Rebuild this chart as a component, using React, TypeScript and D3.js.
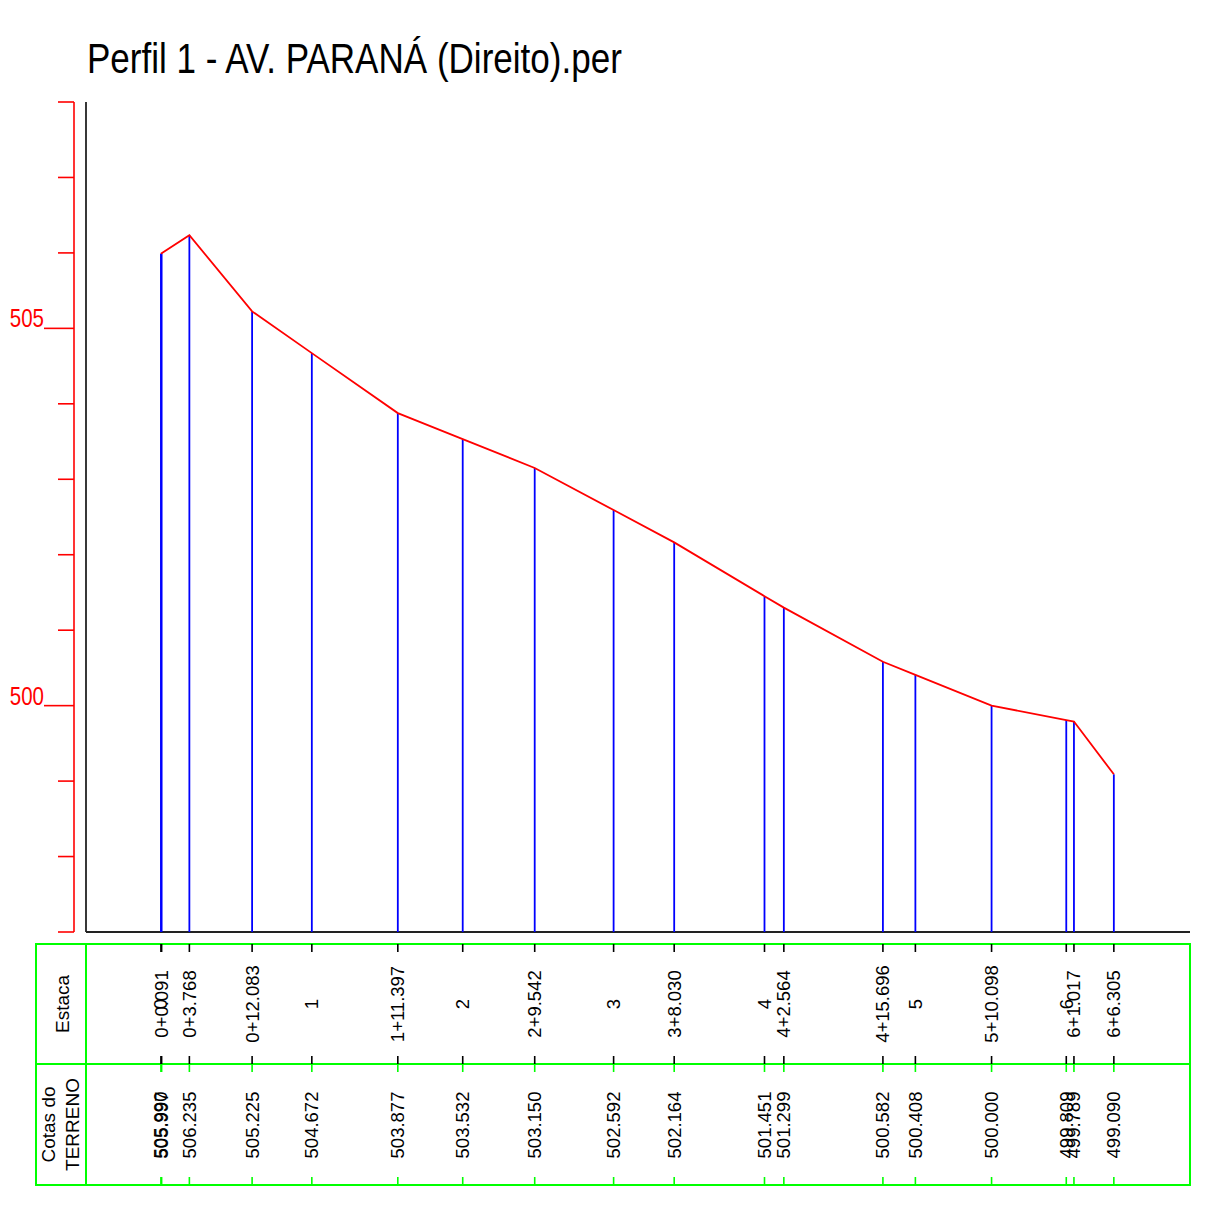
import React from "react";
import * as d3 from "d3";

// profile points (distance in m, terrain elevation)
const estacas = ["0", "0+0.091", "0+3.768", "0+12.083", "1", "1+11.397", "2", "2+9.542", "3", "3+8.030", "4", "4+2.564", "4+15.696", "5", "5+10.098", "6", "6+1.017", "6+6.305"];
const distancias = [0, 0.091, 3.768, 12.083, 20, 31.397, 40, 49.542, 60, 68.03, 80, 82.564, 95.696, 100, 110.098, 120, 121.017, 126.305];
const cotas = [505.99, 505.997, 506.235, 505.225, 504.672, 503.877, 503.532, 503.15, 502.592, 502.164, 501.451, 501.299, 500.582, 500.408, 500.0, 499.809, 499.789, 499.09];
const cotaTicks = d3.range(497, 509);
const cotaLabels = [500, 505];

const W = 1212;
const H = 1209;
const FONT = "'Liberation Sans', Arial, sans-serif";

const App = () => {
    const x = d3.scaleLinear().domain([-10, 136.4]).range([85.5, 1190]);
    const y = d3.scaleLinear().domain([497, 508]).range([932, 102]);

    const pts = distancias.map((d, i) => [x(d), y(cotas[i])] as [number, number]);
    const line = d3.line()(pts);

    const tabTop = 944, tabMid = 1064, tabBot = 1185, tabLeft = 36, tabRight = 1190, colDiv = 86;

    return (
        <svg width={W} height={H} style={{ position: "absolute", left: 0, top: 0, display: "block", background: "#fff" }}
            fontFamily={FONT}>
            {/* title */}
            <text transform="translate(87 73) scale(0.815 1)" fontSize={43} fill="#000">
                Perfil 1 - AV. PARANÁ (Direito).per
            </text>

            {/* red elevation axis */}
            <line x1={74} x2={74} y1={y(508)} y2={y(497)} stroke="#ff0000" strokeWidth={1.6} />
            {cotaTicks.map((t) => (
                <line key={t} x1={cotaLabels.includes(t) ? 44 : 58} x2={74} y1={y(t)} y2={y(t)}
                    stroke="#ff0000" strokeWidth={1.6} />
            ))}
            {cotaLabels.map((t) => (
                <text key={t} transform={`translate(44 ${y(t) - 1}) scale(0.82 1)`} textAnchor="end"
                    fontSize={25} fill="#ff0000">{t}</text>
            ))}

            {/* black frame axes */}
            <line x1={86} x2={86} y1={102} y2={932} stroke="#222" strokeWidth={1.8} />
            <line x1={86} x2={1190} y1={932} y2={932} stroke="#222" strokeWidth={1.8} />

            {/* verticals */}
            {pts.map((p, i) => (
                <line key={i} x1={p[0]} x2={p[0]} y1={p[1]} y2={932} stroke="#0000ff" strokeWidth={1.8} />
            ))}
            <path d={line} fill="none" stroke="#ff0000" strokeWidth={1.8} />

            {/* table */}
            <rect x={tabLeft} y={tabTop} width={tabRight - tabLeft} height={tabBot - tabTop}
                fill="none" stroke="#00ff00" strokeWidth={2} />
            <line x1={tabLeft} x2={tabRight} y1={tabMid} y2={tabMid} stroke="#00ff00" strokeWidth={2} />
            <line x1={colDiv} x2={colDiv} y1={tabTop} y2={tabBot} stroke="#00ff00" strokeWidth={2} />

            <text transform={`translate(62 ${(tabTop + tabMid) / 2}) rotate(-90)`} textAnchor="middle"
                dy="0.35em" fontSize={19} fill="#000">Estaca</text>
            <text transform={`translate(48 ${(tabMid + tabBot) / 2}) rotate(-90)`} textAnchor="middle"
                dy="0.35em" fontSize={19} fill="#000">Cotas do</text>
            <text transform={`translate(72 ${(tabMid + tabBot) / 2}) rotate(-90)`} textAnchor="middle"
                dy="0.35em" fontSize={19} fill="#000">TERRENO</text>

            {distancias.map((d, i) => {
                const px = x(d);
                return (
                    <g key={i}>
                        <line x1={px} x2={px} y1={tabTop} y2={tabTop + 8} stroke="#000" strokeWidth={1.6} />
                        <line x1={px} x2={px} y1={tabMid - 8} y2={tabMid} stroke="#000" strokeWidth={1.6} />
                        <line x1={px} x2={px} y1={tabMid} y2={tabMid + 8} stroke="#00ff00" strokeWidth={1.6} />
                        <line x1={px} x2={px} y1={tabBot - 8} y2={tabBot} stroke="#00ff00" strokeWidth={1.6} />
                        <text transform={`translate(${px} 1004) rotate(-90)`} textAnchor="middle" dy="0.35em"
                            fontSize={18.5} fill="#000">{estacas[i]}</text>
                        <text transform={`translate(${px} 1125) rotate(-90)`} textAnchor="middle" dy="0.35em"
                            fontSize={18.5} fill="#000">{d3.format(".3f")(cotas[i])}</text>
                    </g>
                );
            })}
        </svg>
    );
};

export default App;
